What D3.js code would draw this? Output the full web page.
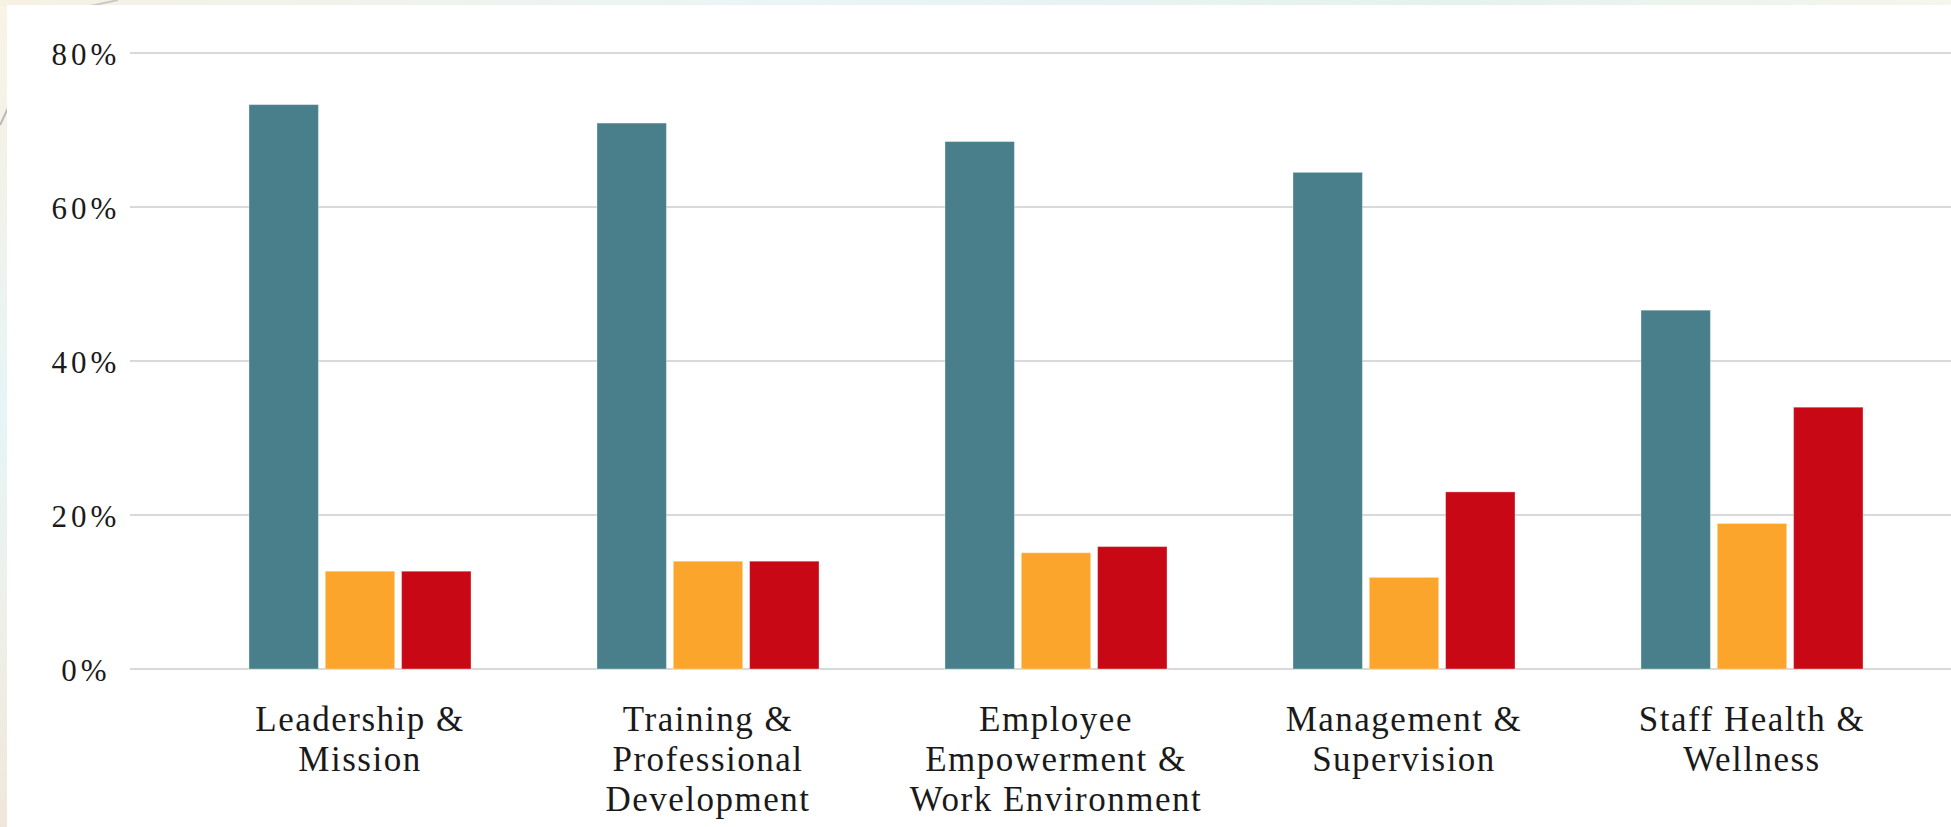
<!DOCTYPE html>
<html>
<head>
<meta charset="utf-8">
<script src="https://cdn.jsdelivr.net/npm/d3@7"></script>
<style>
  html, body { margin: 0; padding: 0; }
  body { width: 1951px; height: 827px; overflow: hidden;
    background: linear-gradient(180deg, #f8f4e6 0%, #f3f2e8 20%, #e6f5f7 50%, #eef0e8 75%, #f0e7da 100%); }
  svg { display: block; }
</style>
</head>
<body>
<svg id="chart" width="1951" height="827"></svg>
<script>
const categories = [
  ["Leadership &", "Mission"],
  ["Training &", "Professional", "Development"],
  ["Employee", "Empowerment &", "Work Environment"],
  ["Management &", "Supervision"],
  ["Staff Health &", "Wellness"]
];
const seriesNames = ["Series 1", "Series 2", "Series 3"];
const series1 = [73.3, 70.9, 68.5, 64.5, 46.6];
const series2 = [12.7, 14.0, 15.1, 11.9, 18.9];
const series3 = [12.7, 14.0, 15.9, 23.0, 34.0];
const seriesColors = ["#487f8a", "#fca52d", "#c80815"];
const yTicks = [0, 20, 40, 60, 80];
const yTickLabels = ["0%", "20%", "40%", "60%", "80%"];

const svg = d3.select("#chart");

// decorative background frame
const defs = svg.append("defs");
const topGrad = defs.append("linearGradient").attr("id", "topg").attr("x1", 0).attr("x2", 1).attr("y1", 0).attr("y2", 0);
topGrad.append("stop").attr("offset", "0%").attr("stop-color", "#f6f1e2");
topGrad.append("stop").attr("offset", "40%").attr("stop-color", "#e9f5f6");
topGrad.append("stop").attr("offset", "75%").attr("stop-color", "#e4f2ee");
topGrad.append("stop").attr("offset", "100%").attr("stop-color", "#f5f6ec");
svg.append("rect").attr("x", 0).attr("y", 0).attr("width", 1951).attr("height", 6).attr("fill", "url(#topg)");
svg.append("line").attr("x1", 0).attr("y1", 125).attr("x2", 8).attr("y2", 108)
  .attr("stroke", "#b9b9b9").attr("stroke-width", 2);
svg.append("line").attr("x1", 90).attr("y1", 6).attr("x2", 118).attr("y2", 0)
  .attr("stroke", "#c9c9c9").attr("stroke-width", 2);

svg.append("rect").attr("x", 7).attr("y", 5).attr("width", 1951 - 7).attr("height", 827 - 5).attr("fill", "#ffffff");

const y = d3.scaleLinear().domain([0, 80]).range([669, 53]);
const x0 = d3.scaleBand().domain(d3.range(categories.length)).range([186, 1926])
  .paddingInner(0.362).paddingOuter(0.181);
const x1 = d3.scaleBand().domain(seriesNames).range([0, x0.bandwidth()]).paddingInner(0.09).paddingOuter(0);

// gridlines
const grid = svg.append("g");
grid.selectAll("line").data(yTicks).join("line")
  .attr("x1", 130).attr("x2", 1951)
  .attr("y1", d => y(d)).attr("y2", d => y(d))
  .attr("stroke", "#d9d9d9").attr("stroke-width", 2);

// y tick labels
svg.append("g").selectAll("text").data(yTicks).join("text")
  .attr("x", 86).attr("y", d => y(d) + 12)
  .attr("text-anchor", "middle")
  .attr("font-family", "'Liberation Serif', 'DejaVu Serif', serif")
  .attr("font-size", 31)
  .attr("letter-spacing", 4)
  .attr("fill", "#1a1a1a")
  .text((d, i) => yTickLabels[i]);

// bars
const allSeries = [series1, series2, series3];
const groups = svg.append("g").selectAll("g").data(categories).join("g")
  .attr("transform", (d, i) => `translate(${x0(i)},0)`);
groups.selectAll("rect").data((d, i) => allSeries.map((s, k) => ({ k, v: s[i] }))).join("rect")
  .attr("x", d => x1(seriesNames[d.k]))
  .attr("width", x1.bandwidth())
  .attr("y", d => y(d.v))
  .attr("height", d => y(0) - y(d.v))
  .attr("fill", d => seriesColors[d.k])
  .attr("stroke", "rgba(255,255,255,0.35)")
  .attr("stroke-width", 1);

// x labels
const labels = svg.append("g").selectAll("text").data(categories).join("text")
  .attr("x", (d, i) => x0(i) + x0.bandwidth() / 2)
  .attr("y", 731)
  .attr("text-anchor", "middle")
  .attr("font-family", "'Liberation Serif', 'DejaVu Serif', serif")
  .attr("font-size", 35)
  .attr("letter-spacing", 1.5)
  .attr("fill", "#1a1a1a");
labels.selectAll("tspan").data(d => d).join("tspan")
  .attr("x", function () { return d3.select(this.parentNode).attr("x"); })
  .attr("dy", (d, j) => j === 0 ? 0 : 40)
  .text(d => d);
</script>
</body>
</html>
